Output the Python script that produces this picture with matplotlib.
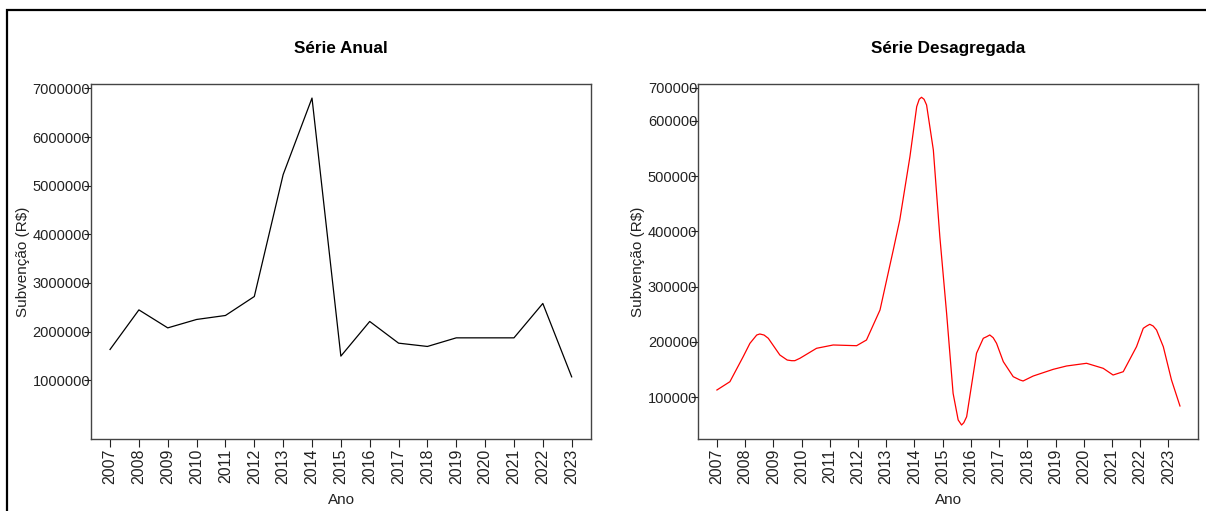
import matplotlib
matplotlib.use("Agg")
import matplotlib.pyplot as plt
from matplotlib.patches import Rectangle

plt.rcParams['font.family'] = ['Liberation Sans', 'DejaVu Sans']

# annual subsidy totals (R$)
anos = [2007, 2008, 2009, 2010, 2011, 2012, 2013, 2014, 2015,
        2016, 2017, 2018, 2019, 2020, 2021, 2022, 2023]
subvencao_anual = [1631000, 2445000, 2075000, 2248000, 2330000, 2720000,
                   5227000, 6801000, 1494000, 2207000, 1761000, 1693000,
                   1870000, 1870000, 1870000, 2577000, 1068000]

# disaggregated series (time in decimal years, R$)
tempo_desag = [2007.00, 2007.46, 2007.93, 2008.17, 2008.41, 2008.52, 2008.67,
               2008.82, 2009.23, 2009.49, 2009.65, 2009.76, 2009.94, 2010.53,
               2011.12, 2011.95, 2012.30, 2012.78, 2013.25, 2013.48, 2013.84,
               2014.08, 2014.17, 2014.25, 2014.34, 2014.43, 2014.67, 2014.90,
               2015.14, 2015.37, 2015.55, 2015.67, 2015.75, 2015.85, 2016.20,
               2016.44, 2016.56, 2016.67, 2016.79, 2016.91, 2017.15, 2017.50,
               2017.74, 2017.85, 2018.21, 2018.92, 2019.39, 2020.10, 2020.69,
               2021.04, 2021.40, 2021.87, 2022.11, 2022.23, 2022.34, 2022.46,
               2022.58, 2022.82, 2023.11, 2023.41]
subvencao_desag = [113200, 128200, 173400, 197600, 212600, 214500, 212600,
                   206700, 176500, 167400, 166200, 166200, 170500, 188600,
                   194600, 193300, 203600, 257900, 366400, 420700, 535100,
                   625500, 638900, 642500, 638900, 628600, 547200, 390400,
                   251900, 107200, 59000, 49900, 54100, 64900, 179600,
                   206700, 209600, 212700, 207800, 197600, 164400, 137300,
                   131300, 129500, 138500, 150600, 156600, 161500, 152400,
                   140300, 146300, 191500, 224800, 228900, 232000, 228900,
                   221700, 191500, 131300, 84300]

ticks_anual = [1000000, 2000000, 3000000, 4000000, 5000000, 6000000, 7000000]
ticks_desag = [100000, 200000, 300000, 400000, 500000, 600000, 660000]
rotulos_desag = ["100000", "200000", "300000", "400000", "500000", "600000", "700000"]

W, H = 1206, 511
fig = plt.figure(figsize=(W / 100, H / 100), dpi=100)

ax1 = fig.add_axes([91 / W, 1 - 439 / H, 500 / W, 355 / H])
ax2 = fig.add_axes([698.3 / W, 1 - 439 / H, 500 / W, 355 / H])


def estilo(ax, titulo, ylabel_x):
    for s in ax.spines.values():
        s.set_color('#444444')
        s.set_linewidth(1.0)
    ax.tick_params(axis='y', length=5, width=0.8, color='#222222',
                   pad=-4.3, labelsize=10.5, labelcolor='#222222')
    ax.tick_params(axis='x', length=5.5, width=0.8, color='#222222',
                   pad=1.5, labelsize=11.5, labelcolor='#222222',
                   labelrotation=90)
    ax.set_xticks(anos)
    ax.set_xticklabels([str(a) for a in anos])
    ax.text(0.5, 1 + 35 / 355, titulo, transform=ax.transAxes,
            ha='center', va='center', fontsize=12.3, fontweight='bold')
    ax.text(0.5, -61 / 355, "Ano", transform=ax.transAxes,
            ha='center', va='center', fontsize=11, color='#222222')
    ax.text(ylabel_x, 0.5, "Subvenção (R$)", transform=ax.transAxes,
            ha='center', va='center', rotation=90, fontsize=11,
            color='#222222')


# annual series
ax1.plot(anos, subvencao_anual, color='black', linewidth=0.9)
ax1.set_xlim(2006.34, 2023.67)
ax1.set_ylim(-210000, 7090000)
ax1.set_yticks(ticks_anual)
ax1.set_yticklabels([str(v) for v in ticks_anual])
estilo(ax1, "Série Anual", (23 - 91) / 500)

# disaggregated series
ax2.plot(tempo_desag, subvencao_desag, color='red', linewidth=0.9,
         solid_joinstyle='round')
ax2.set_xlim(2006.34, 2024.06)
ax2.set_ylim(24600, 666500)
ax2.set_yticks(ticks_desag)
ax2.set_yticklabels(rotulos_desag)
estilo(ax2, "Série Desagregada", (638 - 698.3) / 500)

# outer frame (only top and left edges visible)
fig.add_artist(Rectangle((7 / W, -0.2), 1.5, 1.2 - 10 / H,
                         transform=fig.transFigure, fill=False,
                         edgecolor='black', linewidth=1.6))

fig.savefig("out.png", dpi=100)
